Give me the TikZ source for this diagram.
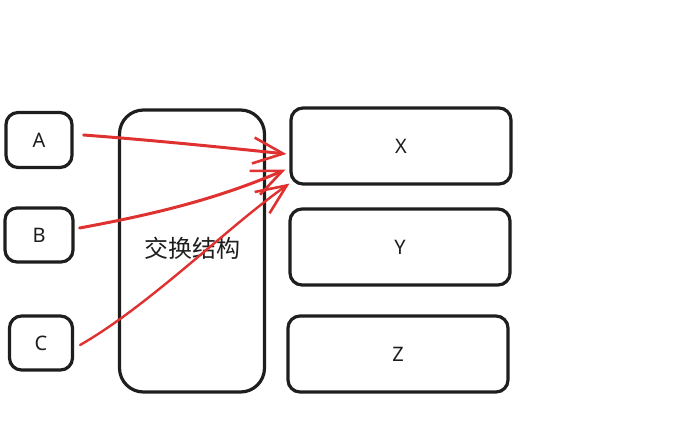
\documentclass[tikz,border=0pt]{standalone}
\usepackage{fontspec}
\setmainfont{Noto Sans}
\newfontfamily\cjk{Noto Sans CJK SC}
\usetikzlibrary{arrows.meta}
\definecolor{exred}{HTML}{E03131}
\definecolor{exblack}{HTML}{1E1E1E}
\begin{document}
\begin{tikzpicture}[x=1pt,y=-1pt,
  box/.style={draw=exblack,line width=3.2pt,rounded corners=12pt,inner sep=0pt,minimum width=#1},
  lbl/.style={font=\fontsize{20}{24}\selectfont,text=exblack},
  redarrow/.style={draw=exred,line width=3pt,line cap=round,-{Straight Barb[length=30pt,width=26pt,line width=2.6pt]}}]
\useasboundingbox (0,0) rectangle (685,437);
\node[box=66pt,minimum height=55pt,lbl] (A) at (39,140) {A};
\node[box=68pt,minimum height=54pt,lbl] (B) at (39,235) {B};
\node[box=63pt,minimum height=54pt,lbl] (C) at (41,343) {C};
\node[box=145pt,minimum height=282pt,rounded corners=24pt] (S) at (192,251) {};
\node[font=\cjk\fontsize{24}{28}\selectfont,text=exblack] (St) at (192,248) {交换结构};
\node[box=220pt,minimum height=76pt,lbl] (X) at (401,146) {X};
\node[box=220pt,minimum height=76pt,lbl] (Y) at (400,247) {Y};
\node[box=220pt,minimum height=76pt,lbl] (Z) at (398,354) {Z};
\coordinate (Ae) at ([xshift=-3pt,yshift=-8pt]X.west);
\coordinate (Be) at ([xshift=-4pt,yshift=16pt]X.south west);
\coordinate (Ce) at ([xshift=0pt,yshift=2pt]X.south west);
\draw[redarrow] ([xshift=10pt,yshift=5pt]A.east) .. controls (150,140) and (220,147) .. (Ae);
\draw[redarrow] ([xshift=5pt,yshift=7pt]B.east) .. controls (150,215) and (215,200) .. (Be);
\draw[redarrow,line width=2.4pt] ([xshift=6pt,yshift=-2pt]C.east) .. controls (150,305) and (230,225) .. (Ce);
\end{tikzpicture}
\end{document}
